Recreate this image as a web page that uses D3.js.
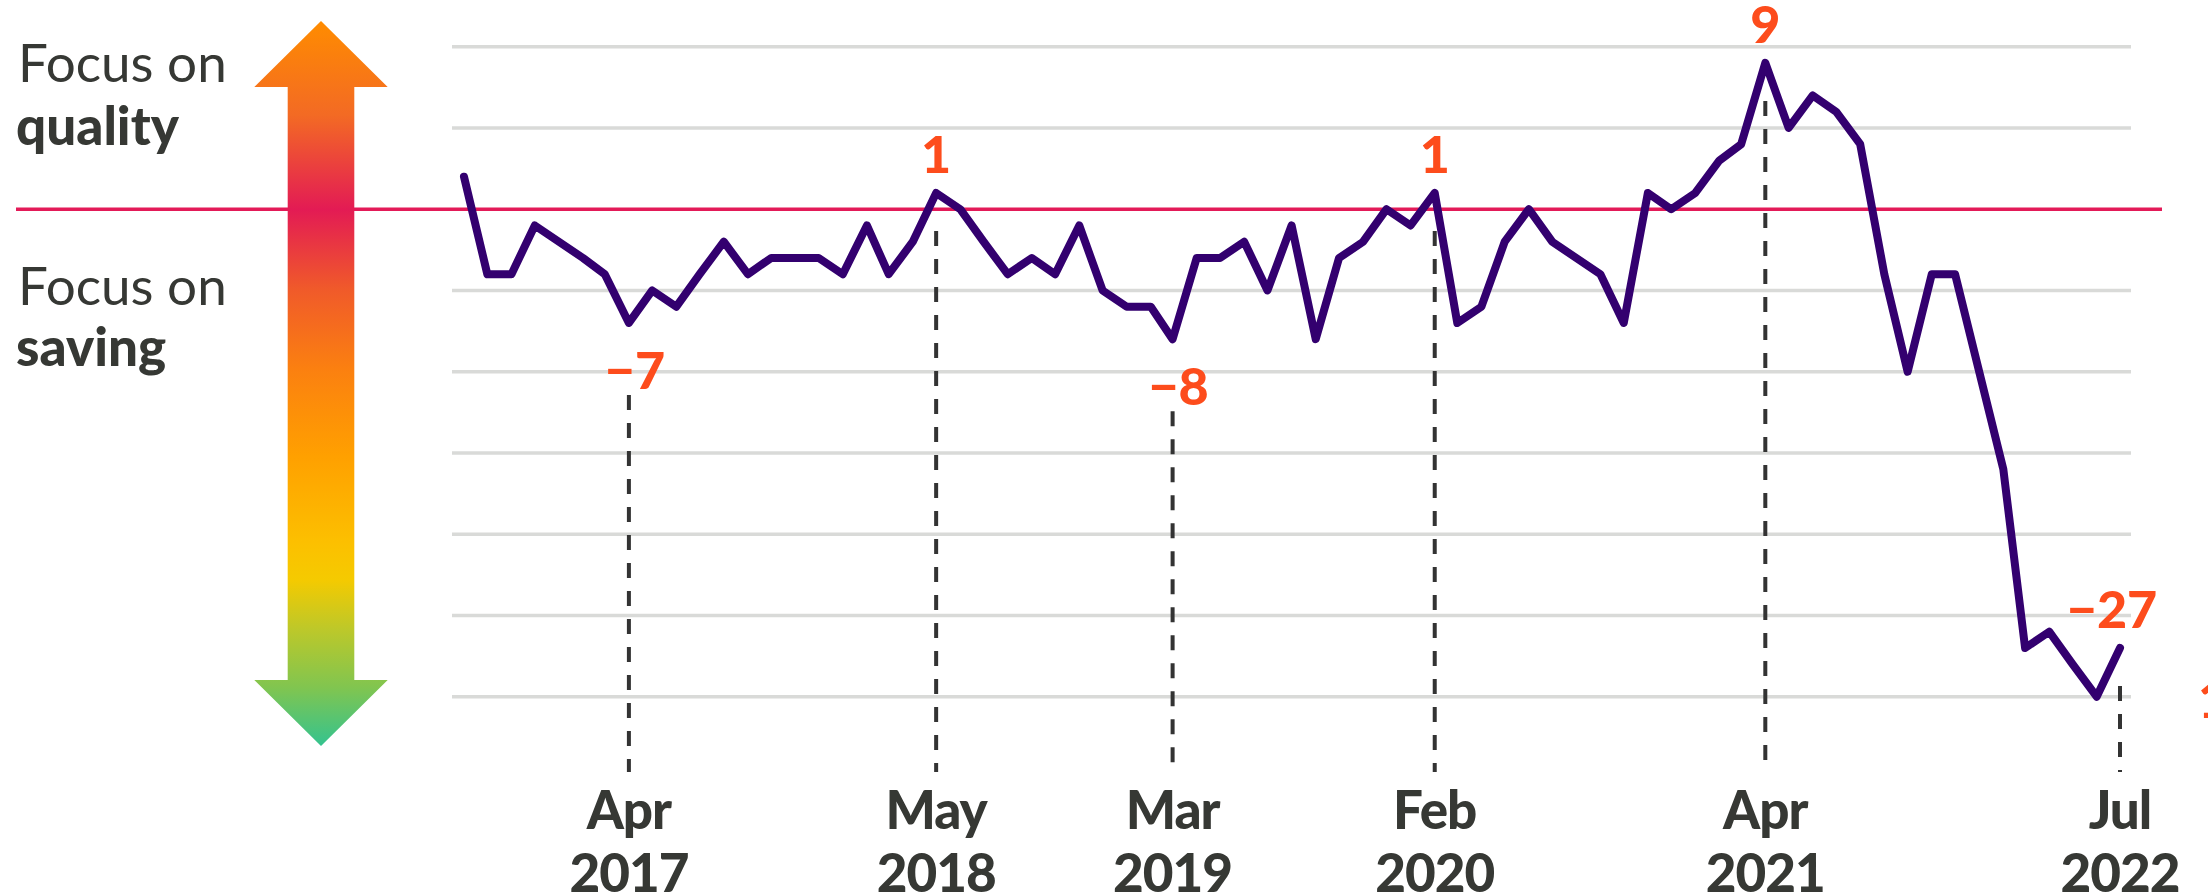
<!DOCTYPE html>
<html>
<head>
<meta charset="utf-8">
<script src="https://cdn.jsdelivr.net/npm/d3@7"></script>
<style>
  body { margin: 0; background: #fff; }
  svg { display: block; font-family: Lato, "Noto Sans", sans-serif; }
</style>
</head>
<body>
<svg id="chart"></svg>
<script>
// monthly index, Sep 2016 .. Jul 2022
const startMonth = new Date(Date.UTC(2016, 8, 1));
const values = [
  2, -4, -4, -1, -2, -3, -4, -7, -5, -6, -4, -2,      // Sep16 - Aug17
  -4, -3, -3, -3, -4, -1, -4, -2, 1, 0, -2, -4,       // Sep17 - Aug18
  -3, -4, -1, -5, -6, -6, -8, -3, -3, -2, -5, -1,     // Sep18 - Aug19
  -8, -3, -2, 0, -1, 1, -7, -6, -2, 0, -2, -3,        // Sep19 - Aug20
  -4, -7, 1, 0, 1, 3, 4, 9, 5, 7, 6, 4,               // Sep20 - Aug21
  -4, -10, -4, -4, -10, -16, -27, -26, -28, -30, -27  // Sep21 - Jul22
];
const dates = values.map((v, i) => d3.utcMonth.offset(startMonth, i));

// gridline values
const gridValues = [10, 5, -5, -10, -15, -20, -25, -30];

// highlighted points (dashed line + orange number + axis label)
const markIndex = [7, 20, 30, 41, 55, 70];
const markSide = ["below", "above", "below", "above", "above", "above"];
const tickMonths = ["Apr", "May", "Mar", "Feb", "Apr", "Jul"];
const tickYears = ["2017", "2018", "2019", "2020", "2021", "2022"];

const width = 2208;
const height = 896;

const svg = d3.select("#chart")
  .attr("width", width)
  .attr("height", height);

const xScale = d3.scaleUtc()
  .domain([dates[0], dates[dates.length - 1]])
  .range([464, 2120]);

const yScale = d3.scaleLinear()
  .domain([-30, 10])
  .range([696.7, 46.7]);

const fmt = d3.format("d");

// light grey gridlines
svg.append("g")
  .selectAll("line")
  .data(gridValues)
  .join("line")
  .attr("x1", 452)
  .attr("x2", 2131)
  .attr("y1", d => yScale(d))
  .attr("y2", d => yScale(d))
  .attr("stroke", "#d9dad8")
  .attr("stroke-width", 3.5);

// zero line runs all the way to the left text
svg.append("line")
  .attr("x1", 16)
  .attr("x2", 2162)
  .attr("y1", yScale(0))
  .attr("y2", yScale(0))
  .attr("stroke", "#e31a58")
  .attr("stroke-width", 3.5);

// gradient arrow on the left
const grad = svg.append("defs").append("linearGradient")
  .attr("id", "arrowGrad")
  .attr("gradientUnits", "userSpaceOnUse")
  .attr("x1", 0).attr("x2", 0)
  .attr("y1", 21).attr("y2", 746);

const stops = [
  [0, "#ff8c00"], [0.13, "#f36a24"], [0.26, "#e31b54"], [0.37, "#f05a2a"],
  [0.48, "#fb8010"], [0.6, "#ffa000"], [0.72, "#fcc000"], [0.77, "#f5ca00"],
  [0.84, "#bcc82a"], [0.92, "#80c550"], [1, "#34c38f"]
];
grad.selectAll("stop")
  .data(stops)
  .join("stop")
  .attr("offset", d => d[0])
  .attr("stop-color", d => d[1]);

const ax = 321, headW = 66.7, shaftW = 33.3, topY = 21, botY = 746, headH = 66;
const arrow = d3.path();
arrow.moveTo(ax, topY);
arrow.lineTo(ax + headW, topY + headH);
arrow.lineTo(ax + shaftW, topY + headH);
arrow.lineTo(ax + shaftW, botY - headH);
arrow.lineTo(ax + headW, botY - headH);
arrow.lineTo(ax, botY);
arrow.lineTo(ax - headW, botY - headH);
arrow.lineTo(ax - shaftW, botY - headH);
arrow.lineTo(ax - shaftW, topY + headH);
arrow.lineTo(ax - headW, topY + headH);
arrow.closePath();

svg.append("path")
  .attr("d", arrow.toString())
  .attr("fill", "url(#arrowGrad)");

// left side text
const leftText = svg.append("g").attr("fill", "#363834");
leftText.append("text").attr("x", 18).attr("y", 82)
  .attr("font-size", 53).attr("font-weight", 400).text("Focus on");
leftText.append("text").attr("x", 16).attr("y", 145)
  .attr("font-size", 53).attr("font-weight", 900).text("quality");
leftText.append("text").attr("x", 18).attr("y", 305)
  .attr("font-size", 53).attr("font-weight", 400).text("Focus on");
leftText.append("text").attr("x", 16).attr("y", 366)
  .attr("font-size", 53).attr("font-weight", 900).text("saving");

// dashed guides down to the axis labels
const marks = markIndex.map((idx, i) => ({
  date: dates[idx],
  value: values[idx],
  side: markSide[i],
  month: tickMonths[i],
  year: tickYears[i]
}));

svg.append("g")
  .selectAll("line")
  .data(marks)
  .join("line")
  .attr("x1", d => xScale(d.date))
  .attr("x2", d => xScale(d.date))
  .attr("y1", d => yScale(d.value) + (d.side === "below" ? 72 : 38))
  .attr("y2", 772)
  .attr("stroke", "#333")
  .attr("stroke-width", 4)
  .attr("stroke-dasharray", "15,13");

// the index line
const line = d3.line()
  .x((d, i) => xScale(dates[i]))
  .y(d => yScale(d));

svg.append("path")
  .datum(values)
  .attr("d", line)
  .attr("fill", "none")
  .attr("stroke", "#33006f")
  .attr("stroke-width", 8)
  .attr("stroke-linejoin", "round")
  .attr("stroke-linecap", "round");

// orange numbers
svg.append("g")
  .selectAll("text")
  .data(marks)
  .join("text")
  .attr("x", d => xScale(d.date) + (d.side === "below" ? 6 : 0) - (d.value < -20 ? 8 : 0))
  .attr("y", d => d.side === "below" ? yScale(d.value) + 66 : yScale(d.value) - 20)
  .attr("text-anchor", "middle")
  .attr("font-size", 52)
  .attr("font-weight", 900)
  .attr("fill", "#fd4c1c")
  .text(d => fmt(d.value));

// cut-off label at the right edge
svg.append("text")
  .attr("x", 2198)
  .attr("y", 718)
  .attr("font-size", 52)
  .attr("font-weight", 900)
  .attr("fill", "#fd4c1c")
  .text("1");

// axis labels, month over year
const axisText = svg.append("g")
  .attr("fill", "#363834")
  .attr("font-size", 53)
  .attr("font-weight", 900)
  .attr("text-anchor", "middle")
  .attr("letter-spacing", -1);

axisText.selectAll(".month")
  .data(marks)
  .join("text")
  .attr("class", "month")
  .attr("x", d => xScale(d.date))
  .attr("y", 829)
  .text(d => d.month);

axisText.selectAll(".year")
  .data(marks)
  .join("text")
  .attr("class", "year")
  .attr("x", d => xScale(d.date))
  .attr("y", 892)
  .text(d => d.year);
</script>
</body>
</html>
